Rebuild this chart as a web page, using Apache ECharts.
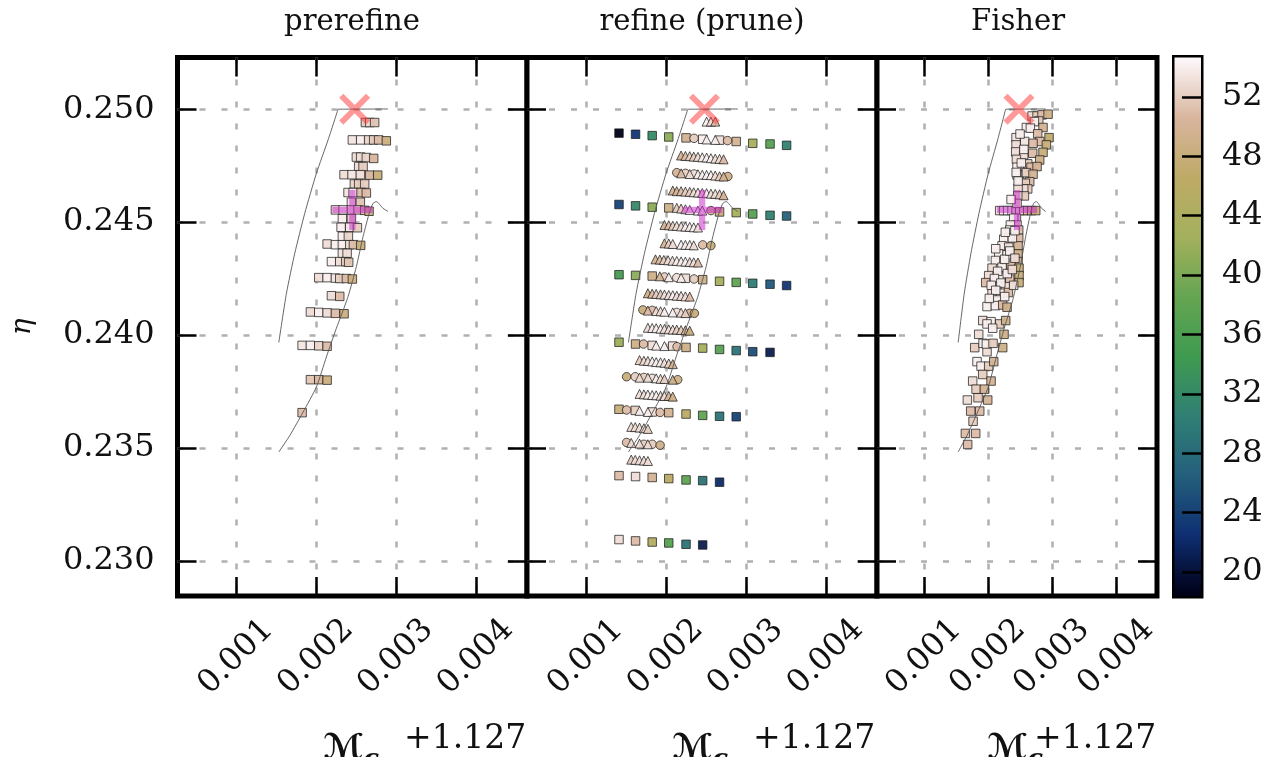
<!DOCTYPE html>
<html><head><meta charset="utf-8">
<style>html,body{margin:0;padding:0;background:#fff;overflow:hidden}#c{width:1270px;height:757px}</style>
<script src="https://cdn.jsdelivr.net/npm/echarts@6/dist/echarts.min.js"></script>
</head><body><div id="c"></div>
<script>
// All Mc values are in units of 0.001 (offset 1.127); eta values are in units of 0.001.
const xTicks=[1,2,3,4];
const yTicks=[230,235,240,245,250];
const barTicks=[20,24,28,32,36,40,44,48,52];
const panelTitles=['prerefine','refine (prune)','Fisher'];
const trueParam=[[2.483,250.0]];
const bestParam=[[2.454,245.54]];
const contourTop=[[2.9,250.01],[2.275,250.0]];
const contourA=[[2.275,250.0],[2.15,248.64],[2.004,247.16],[1.858,245.39],[1.733,243.62],[1.629,241.85],[1.533,239.67]];
const contourB=[[2.9,245.47],[2.838,245.61],[2.754,245.91],[2.713,245.83],[2.671,245.47],[2.588,244.36],[2.504,243.03],[2.4,241.7],[2.317,240.89],[2.254,240.3],[2.129,239.03],[2.004,237.7],[1.838,236.59],[1.671,235.55],[1.533,234.82]];
const cmapValues=[18.5,22.5,26.5,30.5,34.5,38.5,42.5,46.5,50.5,54.5];
const cmapColors=['#000018','#0f2f72','#245f7c','#307f74','#3f9a50','#64a552','#a3b05c','#bdaa66','#d8b49c','#fcf6f8'];

const prerefine=[
[2.617,249.41,52],[2.671,249.41,53],[2.733,249.41,51.5],
[2.454,248.64,53.5],[2.558,248.64,54],[2.658,248.64,52.5],[2.721,248.64,52],[2.783,248.64,51],[2.879,248.6,48.5],
[2.504,247.88,53],[2.558,247.88,53],[2.629,247.86,52.5],[2.721,247.82,50.5],
[2.533,247.46,53],[2.588,247.46,52],
[2.35,247.1,53],[2.45,247.1,53.5],[2.554,247.1,53],[2.671,247.08,50.5],[2.771,247.08,48],
[2.479,246.69,52.5],[2.533,246.69,52],[2.608,246.69,52],
[2.4,246.31,53.5],[2.463,246.31,54],[2.563,246.31,51],[2.629,246.29,51],
[2.442,245.88,53.5],[2.554,245.88,51.5],
[2.242,245.54,53],[2.338,245.54,54],[2.442,245.54,53],[2.525,245.54,52],[2.608,245.52,51],[2.663,245.48,48.5],
[2.329,245.15,54],[2.442,245.15,52],
[2.313,244.77,54],[2.421,244.77,53.5],[2.517,244.75,52],
[2.329,244.37,54],[2.404,244.37,52.5],
[2.138,244.03,53],[2.242,244.0,54],[2.329,244.0,54],[2.421,244.0,53],[2.467,244.0,51],[2.558,243.97,48],
[2.329,243.62,53.5],[2.388,243.62,53],
[2.192,243.25,54],[2.296,243.25,53],[2.371,243.25,52],[2.408,243.22,51.5],
[2.033,242.54,53],[2.138,242.54,54],[2.242,242.52,53.5],[2.296,242.5,52],[2.379,242.5,51],[2.454,242.48,48.5],
[2.192,241.74,53],[2.296,241.71,51],
[1.929,241.02,53],[2.033,241.0,54],[2.138,240.98,53],[2.242,240.96,51],[2.35,240.94,48.5],
[1.825,239.54,53.5],[1.929,239.54,54],[2.033,239.52,52.5],[2.138,239.5,51],
[1.929,238.02,51.5],[2.033,238.02,50.5],[2.138,238.0,48.5],
[1.825,236.56,51]
];
const refineSquares=[
[1.415,248.94,18.5],[1.622,248.89,23],[1.83,248.83,32],[2.037,248.77,41],[2.253,248.73,49.5],[2.461,248.67,54],[2.672,248.63,53],[2.88,248.57,50],[3.087,248.49,43],[3.303,248.46,37],[3.51,248.4,31],
[1.415,245.78,24],[1.622,245.72,32],[1.83,245.66,41],[2.037,245.63,49],[2.672,245.45,48],[2.88,245.42,43],[3.087,245.36,37],[3.303,245.3,31],[3.51,245.27,27],
[1.415,242.67,35],[1.622,242.64,41],[1.83,242.61,49],[2.245,242.51,53],[2.461,242.45,49],[2.672,242.38,43],[2.88,242.33,38],[3.087,242.29,30],[3.303,242.25,26],[3.51,242.19,23],
[1.415,239.68,42],[1.622,239.6,49],[1.83,239.54,53],[2.087,239.51,53],[2.253,239.45,49],[2.461,239.42,43],[2.672,239.36,37],[2.88,239.31,29],[3.087,239.26,25],[3.303,239.23,21],
[1.415,236.71,48],[1.618,236.66,52],[1.83,236.59,53],[2.037,236.56,50],[2.253,236.5,46],[2.461,236.44,38],[2.672,236.4,29],[2.88,236.38,24],
[1.415,233.77,51],[1.622,233.73,53],[1.83,233.69,50],[2.037,233.64,46],[2.253,233.58,38],[2.461,233.55,29],[2.672,233.48,22],
[1.415,230.94,53],[1.622,230.88,51],[1.83,230.83,45],[2.037,230.79,37],[2.253,230.73,29],[2.461,230.7,21]
];
const refineTriangles=[
[2.51,249.45,54],[2.564,249.45,53],[2.618,249.45,51],
[2.51,248.66,54],[2.618,248.64,54],
[2.191,247.95,50],[2.245,247.93,51],[2.299,247.92,52],[2.349,247.9,52],[2.402,247.89,53],[2.456,247.87,54],[2.51,247.86,54],[2.564,247.83,54],[2.618,247.81,53],[2.672,247.8,53],[2.722,247.78,51],
[2.191,247.16,51],[2.299,247.13,53],[2.402,247.12,54],[2.456,247.1,54],[2.51,247.09,54],[2.564,247.08,54],[2.618,247.06,53],[2.672,247.03,52],[2.722,247.02,50],
[2.087,246.4,50],[2.137,246.37,50],[2.191,246.37,51],[2.245,246.35,52],[2.299,246.34,52],[2.349,246.32,53],[2.402,246.31,53],[2.456,246.29,54],[2.51,246.28,54],[2.564,246.26,53],[2.618,246.25,53],[2.672,246.23,52],[2.722,246.19,50],
[2.137,245.63,52],[2.191,245.6,52],[2.245,245.57,53],[2.299,245.54,54],[2.402,245.51,54],[2.456,245.51,54],
[1.983,244.87,50],[2.037,244.86,51],[2.087,244.84,52],[2.137,244.83,53],[2.191,244.81,53],[2.245,244.8,54],[2.299,244.79,54],[2.349,244.77,54],[2.402,244.76,53],
[1.983,244.06,50],[2.037,244.05,52],[2.087,244.03,53],[2.191,244.0,54],[2.245,243.99,54],[2.299,243.99,54],[2.349,243.97,53],
[1.871,243.35,50],[1.925,243.34,51],[1.975,243.32,52],[2.029,243.31,53],[2.083,243.29,53],[2.137,243.28,54],[2.191,243.26,54],[2.245,243.25,54],[2.299,243.23,53],[2.349,243.22,53],[2.402,243.21,51],
[1.925,242.6,50],[2.037,242.56,54],[2.191,242.53,54],
[1.776,241.85,49],[1.83,241.83,51],[1.88,241.82,52],[1.934,241.8,52],[1.983,241.79,53],[2.037,241.77,53],[2.087,241.76,54],[2.137,241.74,53],[2.191,241.73,53],[2.245,241.71,53],[2.299,241.7,51],
[1.776,241.08,51],[1.88,241.06,53],[1.934,241.05,53],[1.983,241.03,54],[2.087,241.0,54],[2.191,240.99,53],[2.245,240.97,52],
[1.776,240.32,53],[1.83,240.31,54],[1.88,240.3,54],[1.934,240.28,54],[1.983,240.27,53],[2.037,240.25,53],[2.087,240.24,53],[2.137,240.24,52],[2.191,240.22,52],[2.245,240.21,50],[2.299,240.19,48],
[1.88,239.53,54],[1.983,239.51,54],
[1.672,238.89,52],[1.726,238.86,53],[1.776,238.85,53],[1.83,238.83,54],[1.88,238.8,54],[1.934,238.79,54],[1.983,238.77,53],[2.037,238.74,52],[2.087,238.71,50],
[1.672,238.11,53],[1.776,238.11,53],[1.88,238.08,54],[1.934,238.06,53],[1.983,238.05,52],[2.087,238.02,49],
[1.672,237.39,53],[1.726,237.37,53],[1.776,237.36,54],[1.83,237.34,54],[1.88,237.33,54],[1.934,237.31,53],[1.983,237.3,53],[2.037,237.3,50],[2.087,237.27,49],
[1.672,236.64,54],[1.776,236.59,54],
[1.568,235.93,53],[1.618,235.92,53],[1.672,235.9,53],[1.726,235.87,53],[1.776,235.84,52],
[1.568,235.22,53],[1.672,235.19,53],[1.776,235.16,53],
[1.568,234.48,52],[1.618,234.47,53],[1.672,234.45,53],[1.726,234.44,53],[1.776,234.42,53]
];
const refineCircles=[
[2.353,248.71,52],[2.772,248.61,51],
[2.137,247.19,50],[2.245,247.16,52],[2.353,247.13,53],[2.776,247.02,49],
[2.564,245.51,50],
[2.461,243.99,51],[2.564,243.96,48],
[1.983,242.57,52],[2.137,242.54,53],[2.353,242.48,52],
[1.714,241.11,48],[1.83,241.09,51],[2.137,241.0,53],[2.299,240.96,50],[2.357,240.96,48],
[1.722,239.6,51],[2.141,239.48,51],
[1.51,238.15,48],[1.618,238.15,52],[1.726,238.12,52],[1.83,238.08,53],[2.149,238.02,49],
[1.51,236.68,51],[1.929,236.57,51],
[1.51,235.24,51],[1.726,235.16,52],[1.83,235.16,52],[1.929,235.12,49]
];
const fisher=[
[2.688,249.7,53],[2.766,249.7,52],[2.844,249.75,51],[2.938,249.78,49],[2.792,249.48,52],[2.724,249.45,54],[2.599,249.19,54],[2.859,249.19,50],[2.661,249.16,54],[2.776,248.91,51],
[2.438,248.74,53.5],[2.573,248.57,53.5],[2.807,248.57,51],[2.703,248.49,51],[2.953,248.74,47],[2.911,248.42,48],[2.438,248.42,53],[2.432,248.11,53],[2.557,247.98,53],[2.698,248.05,51],
[2.859,248.09,48],[2.807,247.75,49],[2.443,247.78,53],[2.62,247.58,52],[2.672,247.43,51],[2.766,247.46,50],[2.453,247.43,54],[2.599,247.19,52],[2.703,247.12,50],[2.453,247.09,54],
[2.495,246.79,53],[2.651,246.79,51],[2.583,246.72,52],[2.62,246.47,52],[2.557,246.47,53],[2.469,246.5,53],[2.568,246.16,52],[2.464,246.16,53],
[2.182,245.51,53],[2.245,245.51,54],[2.307,245.51,54],[2.375,245.51,54],[2.438,245.51,53],[2.495,245.51,53],[2.557,245.51,52],[2.62,245.51,51],[2.682,245.51,50],[2.745,245.51,48],
[2.453,245.83,53],[2.443,245.17,54],[2.401,245.17,54],[2.453,244.87,53],[2.349,244.87,54],[2.479,244.65,51],[2.339,244.65,54],[2.323,244.31,54],[2.245,244.24,54],[2.479,244.28,51],
[2.219,243.95,54],[2.323,243.89,53],[2.469,243.95,50],[2.167,243.59,54],[2.297,243.55,54],[2.469,243.59,49],[2.115,243.3,54],[2.469,243.25,49],[2.063,242.96,53],[2.219,243.0,54],
[2.359,243.09,51],[2.484,242.96,48],[2.01,242.63,53],[2.208,242.56,54],[2.484,242.63,48],[2.339,242.47,51],[1.964,242.32,51],[2.151,242.17,54],[2.271,242.14,53],[2.484,242.32,48],
[2.063,241.85,53],[2.193,241.85,54],[2.318,241.88,51],[2.141,241.55,54],[1.984,241.26,54],[2.115,241.3,54],[2.229,241.33,51],[2.297,241.23,49],[1.917,240.64,53],[2.047,240.59,54],
[1.984,240.49,54],[2.182,240.49,52],[2.276,240.64,49],[2.073,240.3,54],[1.854,240.03,53],[2.25,240.03,49],[1.792,239.44,52],[1.922,239.63,54],[1.984,239.26,53],[1.974,239.6,54],
[2.078,239.63,52],[2.229,239.44,49],[1.828,238.82,54],[1.891,238.62,54],[2.01,238.62,52],[2.089,238.82,50],[1.917,238.25,52],[1.76,237.96,53],[2.047,237.96,50],[1.813,237.6,52],
[1.943,237.6,50],[1.844,237.22,52],[1.677,237.12,53],[1.995,237.12,50],[1.729,236.63,51],[1.87,236.63,51],[1.766,236.18,52],[1.646,235.64,51],[1.807,235.64,51],[1.682,235.15,51],
[2.44,247.2,54],[2.52,247.62,54],[2.56,248.22,54],[2.5,248.9,54],[2.47,246.82,54],[2.36,246.0,54],[2.38,244.3,54],[2.27,244.55,54],[2.12,243.82,54],[2.26,243.35,54],
[2.34,243.72,54],[2.15,242.82,54],[2.3,242.72,54],[2.1,242.5,54],[2.05,242.2,54],[2.2,242.3,54],[2.12,241.98,54],[2.26,241.7,54],[2.02,241.62,54],[2.38,242.9,53],
[2.42,244.62,54],[2.42,243.4,53],[2.4,242.2,53]
];

const serif='"DejaVu Serif"';
const xMin=0.265,xMax=4.64,yMin=228.44,yMax=252.29,barMin=18.38,barMax=54.66;
const panels=[{left:177.5,width:349.5},{left:527,width:350},{left:877,width:280}];
const tick=()=>({show:true,inside:true,length:19,lineStyle:{color:'#000',width:2.5}});
const grey=()=>({show:true,lineStyle:{color:'#b0b0b0',width:2.5,type:[6,16],cap:'butt'}});
const grids=panels.map(p=>({left:p.left,width:p.width,top:57.5,height:538.5,show:true,borderColor:'#000',borderWidth:5,backgroundColor:'#fff',containLabel:false}));
grids.push({left:1174.5,width:26.5,top:57.5,height:538.5,show:true,borderColor:'#000',borderWidth:5});
const xAxes=[],yAxes=[];
panels.forEach((p,i)=>{
  xAxes.push({type:'value',gridIndex:i,position:'bottom',min:xMin,max:xMax,axisLine:{show:false},
    axisTick:{...tick(),customValues:xTicks},splitLine:grey(),
    axisLabel:{show:true,customValues:xTicks,rotate:45,align:'center',verticalAlign:'middle',margin:61,fontFamily:serif,fontSize:32,color:'#111',formatter:v=>(v/1000).toFixed(3)}});
  xAxes.push({type:'value',gridIndex:i,position:'top',min:xMin,max:xMax,axisLine:{show:false},
    axisTick:{...tick(),customValues:xTicks},splitLine:{show:false},axisLabel:{show:false}});
  yAxes.push({type:'value',gridIndex:i,position:'left',min:yMin,max:yMax,axisLine:{show:false},
    axisTick:{...tick(),customValues:yTicks},splitLine:grey(),
    name:i===0?'η':'',nameLocation:'middle',nameGap:141,nameRotate:90,nameTextStyle:{fontFamily:serif,fontStyle:'italic',fontSize:28,color:'#111'},
    axisLabel:{show:i===0,customValues:yTicks,margin:23,padding:[6,0,0,0],fontFamily:serif,fontSize:32,color:'#111',formatter:v=>(v/1000).toFixed(3)}});
  yAxes.push({type:'value',gridIndex:i,position:'right',min:yMin,max:yMax,axisLine:{show:false},
    axisTick:{...tick(),customValues:yTicks},splitLine:{show:false},axisLabel:{show:false}});
});
xAxes.push({type:'category',gridIndex:3,data:[''],axisLine:{show:false},axisTick:{show:false},axisLabel:{show:false},splitLine:{show:false}});
yAxes.push({type:'value',gridIndex:3,position:'right',min:barMin,max:barMax,axisLine:{show:false},
  axisTick:{...tick(),customValues:barTicks},splitLine:{show:false},z:10,
  axisLabel:{show:true,customValues:barTicks,margin:21,padding:[14,0,0,0],fontFamily:serif,fontSize:32,color:'#111'}});

const markerSeries=[],otherSeries=[];
function scatter(data,symbol,size,i){
  markerSeries.push({type:'scatter',data,symbol,symbolSize:size,xAxisIndex:i*2,yAxisIndex:i*2,z:2,
    itemStyle:{borderColor:'rgba(25,25,25,0.85)',borderWidth:0.9,opacity:0.95},emphasis:{disabled:true}});
}
scatter(prerefine,'rect',8.5,0);
scatter(refineSquares,'rect',8.5,1);
scatter(refineCircles,'circle',8.5,1);
scatter(refineTriangles,'triangle',9,1);
scatter(fisher,'rect',8.5,2);
const xPath='path://M4 0L15 11L26 0L30 4L19 15L30 26L26 30L15 19L4 30L0 26L11 15L0 4Z';
const plusPath='path://M16 0H22V16H38V22H22V38H16V22H0V16H16Z';
panels.forEach((p,i)=>{
  [contourTop,contourA,contourB].forEach(d=>otherSeries.push({type:'line',data:d,xAxisIndex:i*2,yAxisIndex:i*2,smooth:0.2,showSymbol:false,symbol:'none',z:3,
    lineStyle:{color:'#555',width:0.9},emphasis:{disabled:true}}));
  otherSeries.push({type:'scatter',data:trueParam,xAxisIndex:i*2,yAxisIndex:i*2,symbol:xPath,symbolSize:31,z:4,itemStyle:{color:'rgba(255,60,60,0.65)'},emphasis:{disabled:true}});
  otherSeries.push({type:'scatter',data:bestParam,xAxisIndex:i*2,yAxisIndex:i*2,symbol:plusPath,symbolSize:40,z:4,itemStyle:{color:'rgba(200,40,200,0.65)'},emphasis:{disabled:true}});
});
const barStops=cmapValues.map((v,k)=>({offset:(barMax-v)/(barMax-barMin),color:cmapColors[k]})).reverse();
const barSeries={type:'bar',data:[barMax],xAxisIndex:6,yAxisIndex:6,barWidth:'100%',z:1,silent:true,
  itemStyle:{color:new echarts.graphic.LinearGradient(0,57.5,0,596,barStops,true)}};

const titleStyle={fontFamily:serif,fontSize:29,fontWeight:'normal',color:'#111'};
const labelRich={m:{fontFamily:'"DejaVu Sans"',fontStyle:'italic',fontSize:34,color:'#111'},s:{fontFamily:serif,fontStyle:'italic',fontSize:26,color:'#111',padding:[22,0,0,0]}};
const plusStyle={fontFamily:serif,fontSize:33,fontWeight:'normal',color:'#111'};
const titles=[
  {text:panelTitles[0],left:347,top:3,textAlign:'center',textStyle:titleStyle},
  {text:panelTitles[1],left:697,top:3,textAlign:'center',textStyle:titleStyle},
  {text:panelTitles[2],left:1013,top:3,textAlign:'center',textStyle:titleStyle},
  {text:'{m|ℳ}{s|c}',left:318,top:720,textStyle:{rich:labelRich}},
  {text:'+1.127',left:399,top:718,textStyle:plusStyle},
  {text:'{m|ℳ}{s|c}',left:667,top:720,textStyle:{rich:labelRich}},
  {text:'+1.127',left:748,top:718,textStyle:plusStyle},
  {text:'{m|ℳ}{s|c}',left:982,top:720,textStyle:{rich:labelRich}},
  {text:'+1.127',left:1029,top:718,textStyle:plusStyle}
];
const chart=echarts.init(document.getElementById('c'),null,{renderer:'canvas'});
chart.setOption({animation:false,backgroundColor:'#fff',title:titles,grid:grids,xAxis:xAxes,yAxis:yAxes,
  visualMap:{show:false,type:'continuous',min:cmapValues[0],max:cmapValues[cmapValues.length-1],dimension:2,seriesIndex:markerSeries.map((s,i)=>i),inRange:{color:cmapColors}},
  series:[...markerSeries,...otherSeries,barSeries]});
</script></body></html>
